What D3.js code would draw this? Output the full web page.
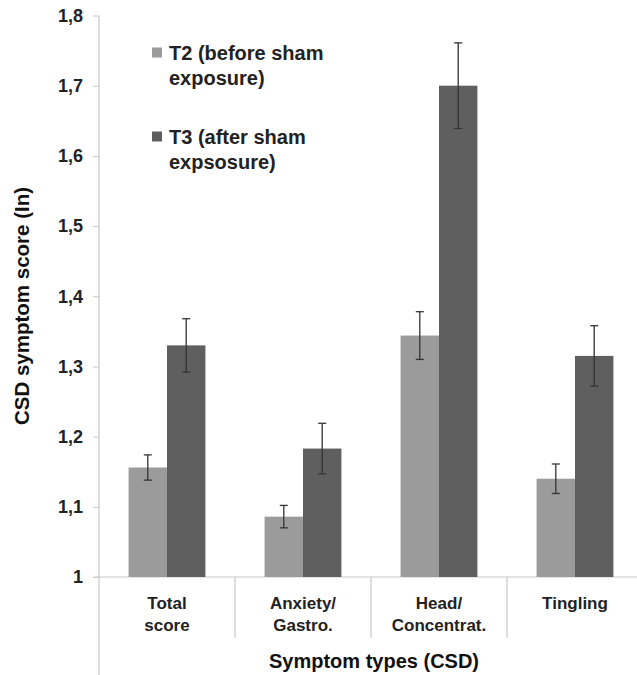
<!DOCTYPE html>
<html>
<head>
<meta charset="utf-8">
<script src="https://cdn.jsdelivr.net/npm/d3@7"></script>
<style>
  html, body { margin: 0; padding: 0; background: #fff; }
  svg { display: block; font-family: "Liberation Sans", Arial, sans-serif; }
</style>
</head>
<body>
<div id="chart"></div>
<script>
// ── Data ──────────────────────────────────────────────────────────────────────
const categories = [['Total', 'score'], ['Anxiety/', 'Gastro.'], ['Head/', 'Concentrat.'], ['Tingling']];
const seriesNames = ['T2 (before sham exposure)', 'T3 (after sham expsosure)'];
const legendLines = [['T2 (before sham', 'exposure)'], ['T3 (after sham', 'expsosure)']];
const t2Values = [1.156, 1.086, 1.344, 1.140];
const t2Errors = [0.018, 0.016, 0.034, 0.021];
const t3Values = [1.330, 1.183, 1.700, 1.315];
const t3Errors = [0.038, 0.036, 0.061, 0.043];
const yTicks = [1, 1.1, 1.2, 1.3, 1.4, 1.5, 1.6, 1.7, 1.8];

const colors = ['#9b9b9b', '#5f5f5f'];
const W = 637, H = 675;
const margin = { top: 15.5, left: 99, bottom: 98 };
const FONT = '"Liberation Sans", Arial, sans-serif';

const svg = d3.select('#chart').append('svg')
  .attr('width', W).attr('height', H).attr('viewBox', `0 0 ${W} ${H}`);

const catKeys = categories.map((c) => c.join(' '));

const y = d3.scaleLinear().domain([1, 1.8]).range([H - margin.bottom, margin.top]);
const x0 = d3.scaleBand().domain(catKeys).range([margin.left, 643]).paddingInner(0).paddingOuter(0);
const x1 = d3.scaleBand().domain(seriesNames).range([0, x0.bandwidth()]).paddingInner(0).paddingOuter(0.77);

const fmt = (d) => (d === 1 ? '1' : d3.format('.1f')(d).replace('.', ','));

// ── Y axis ───────────────────────────────────────────────────────────────────
const yAxis = svg.append('g')
  .attr('transform', `translate(${margin.left},0)`)
  .call(d3.axisLeft(y).tickValues(yTicks).tickFormat(fmt).tickSize(6).tickPadding(10));
yAxis.select('.domain').remove();
yAxis.selectAll('.tick line').attr('stroke', '#c8c8c8');
yAxis.selectAll('.tick text')
  .attr('font-size', 18).attr('font-weight', 'bold').attr('fill', '#222')
  .attr('font-family', FONT);

svg.append('line')
  .attr('x1', margin.left).attr('x2', margin.left)
  .attr('y1', y(1.8)).attr('y2', H)
  .attr('stroke', '#c8c8c8').attr('stroke-width', 1.2);

// ── X axis ───────────────────────────────────────────────────────────────────
const baseY = y(1);
svg.append('line')
  .attr('x1', margin.left - 6).attr('x2', W)
  .attr('y1', baseY).attr('y2', baseY)
  .attr('stroke', '#c8c8c8').attr('stroke-width', 1.2);

svg.append('g').selectAll('line')
  .data(catKeys.slice(1))
  .join('line')
  .attr('x1', (d) => x0(d)).attr('x2', (d) => x0(d))
  .attr('y1', baseY).attr('y2', baseY + 61)
  .attr('stroke', '#c8c8c8').attr('stroke-width', 1.2);

const catLabels = svg.append('g').selectAll('text')
  .data(categories)
  .join('text')
  .attr('x', (d) => x0(d.join(' ')) + x0.bandwidth() / 2)
  .attr('y', baseY + 32)
  .attr('text-anchor', 'middle')
  .attr('font-size', 17).attr('font-weight', 'bold').attr('fill', '#222');
catLabels.selectAll('tspan')
  .data((d) => d.map((line) => ({ line, x: x0(d.join(' ')) + x0.bandwidth() / 2 })))
  .join('tspan')
  .attr('x', (d) => d.x)
  .attr('dy', (d, i) => (i === 0 ? 0 : 22))
  .text((d) => d.line);

svg.append('text')
  .attr('x', 374).attr('y', 668)
  .attr('text-anchor', 'middle')
  .attr('font-size', 20).attr('font-weight', 'bold').attr('fill', '#111')
  .text('Symptom types (CSD)');

svg.append('text')
  .attr('transform', `translate(29,306) rotate(-90)`)
  .attr('text-anchor', 'middle')
  .attr('font-size', 20.5).attr('font-weight', 'bold').attr('fill', '#111')
  .text('CSD symptom score (In)');

// ── Bars ─────────────────────────────────────────────────────────────────────
const rows = catKeys.map((k, i) => [
  { cat: k, s: seriesNames[0], v: t2Values[i], e: t2Errors[i], c: colors[0] },
  { cat: k, s: seriesNames[1], v: t3Values[i], e: t3Errors[i], c: colors[1] },
]).flat();

svg.append('g').selectAll('rect')
  .data(rows)
  .join('rect')
  .attr('x', (d) => x0(d.cat) + x1(d.s))
  .attr('y', (d) => y(d.v))
  .attr('width', x1.bandwidth())
  .attr('height', (d) => baseY - y(d.v))
  .attr('fill', (d) => d.c);

// Error bars
const eb = svg.append('g').attr('stroke', '#333').attr('stroke-width', 1.3);
const cx = (d) => x0(d.cat) + x1(d.s) + x1.bandwidth() / 2;
eb.selectAll('.stem').data(rows).join('line').attr('class', 'stem')
  .attr('x1', cx).attr('x2', cx)
  .attr('y1', (d) => y(d.v + d.e)).attr('y2', (d) => y(d.v - d.e));
eb.selectAll('.capt').data(rows).join('line').attr('class', 'capt')
  .attr('x1', (d) => cx(d) - 4).attr('x2', (d) => cx(d) + 4)
  .attr('y1', (d) => y(d.v + d.e)).attr('y2', (d) => y(d.v + d.e));
eb.selectAll('.capb').data(rows).join('line').attr('class', 'capb')
  .attr('x1', (d) => cx(d) - 4).attr('x2', (d) => cx(d) + 4)
  .attr('y1', (d) => y(d.v - d.e)).attr('y2', (d) => y(d.v - d.e));

// ── Legend ───────────────────────────────────────────────────────────────────
const legend = svg.append('g');
const legItems = legend.selectAll('g')
  .data(legendLines)
  .join('g')
  .attr('transform', (d, i) => `translate(152,${60 + i * 84})`);
legItems.append('rect')
  .attr('x', 0).attr('y', -12.5).attr('width', 10).attr('height', 10)
  .attr('fill', (d, i) => colors[i]);
legItems.append('text')
  .attr('x', 17).attr('y', 0)
  .attr('font-size', 20).attr('font-weight', 'bold').attr('fill', '#222')
  .selectAll('tspan')
  .data((d) => d)
  .join('tspan')
  .attr('x', 17)
  .attr('dy', (d, i) => (i === 0 ? 0 : 25))
  .text((d) => d);
</script>
</body>
</html>
